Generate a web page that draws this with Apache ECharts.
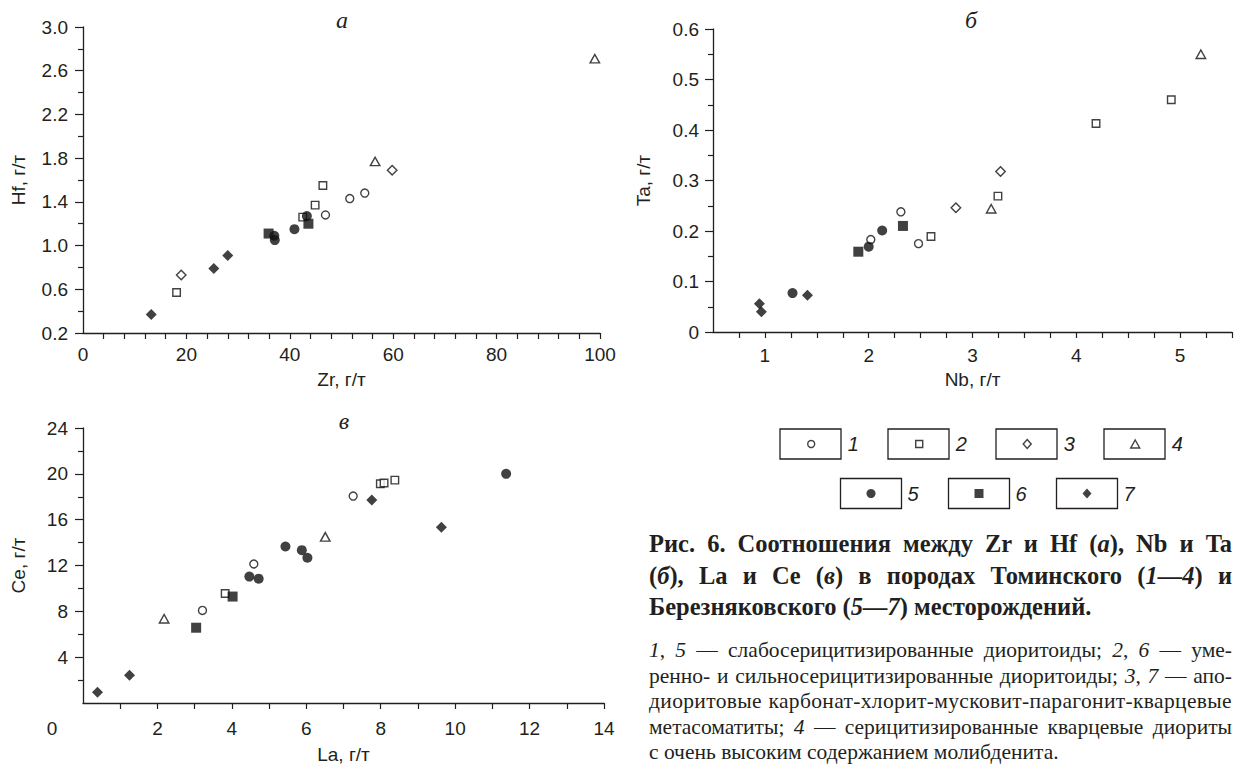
<!DOCTYPE html>
<html>
<head>
<meta charset="utf-8">
<title>Рис. 6</title>
<script src="https://cdn.jsdelivr.net/npm/echarts@6/dist/echarts.min.js"></script>
<style>
    html, body { margin: 0; padding: 0; background: #fff; }
    #chart { position: absolute; left: 0; top: 0; width: 1236px; height: 765px; }
    .caption { position: absolute; left: 649px; width: 583px; color: #231f20; font-family: 'Liberation Serif', serif; }
    .caption div { text-align: justify; text-align-last: justify; white-space: nowrap; }
    .caption div.last { text-align-last: left; }
    .head { top: 528px; font-size: 24.5px; line-height: 31.5px; font-weight: bold; }
    .note { top: 638px; font-size: 21.5px; line-height: 25.5px; }
    .note .wide { letter-spacing: 0.35px; }
</style>
</head>
<body>
<div id="chart"></div>
<div class="caption head">
    <div>Рис. 6. Соотношения между Zr и Hf (<i>а</i>), Nb и Ta</div>
    <div>(<i>б</i>), La и Ce (<i>в</i>) в породах Томинского (<i>1—4</i>) и</div>
    <div class="last">Березняковского (<i>5—7</i>) месторождений.</div>
</div>
<div class="caption note">
    <div><i>1</i>, <i>5</i> — слабосерицитизированные диоритоиды; <i>2</i>, <i>6</i> — уме-</div>
    <div>ренно- и сильносерицитизированные диоритоиды; <i>3</i>, <i>7</i> — апо-</div>
    <div class="wide">диоритовые карбонат-хлорит-мусковит-парагонит-кварцевые</div>
    <div>метасоматиты; <i>4</i> — серицитизированные кварцевые диориты</div>
    <div class="last">с очень высоким содержанием молибденита.</div>
</div>
<script>
    // group names (legend numbers)
    var groups = ['1', '2', '3', '4', '5', '6', '7'];

    // panel а: Zr vs Hf, g/t
    var zrHf1 = [[46.9, 1.28], [51.6, 1.43], [54.5, 1.48]];
    var zrHf2 = [[18.1, 0.57], [42.5, 1.26], [44.9, 1.37], [46.4, 1.55]];
    var zrHf3 = [[19.0, 0.73], [59.8, 1.69]];
    var zrHf4 = [[56.5, 1.77], [99.0, 2.71]];
    var zrHf5 = [[37.0, 1.09], [37.1, 1.05], [40.9, 1.15], [43.3, 1.27]];
    var zrHf6 = [[35.9, 1.11], [43.6, 1.20]];
    var zrHf7 = [[13.2, 0.37], [25.3, 0.79], [28.0, 0.91]];

    // panel б: Nb vs Ta, g/t
    var nbTa1 = [[2.02, 0.183], [2.31, 0.238], [2.48, 0.175]];
    var nbTa2 = [[2.60, 0.189], [3.245, 0.269], [4.19, 0.413], [4.915, 0.46]];
    var nbTa3 = [[2.84, 0.246], [3.27, 0.318]];
    var nbTa4 = [[3.18, 0.244], [5.2, 0.55]];
    var nbTa5 = [[1.266, 0.077], [2.0, 0.169], [2.13, 0.201]];
    var nbTa6 = [[1.90, 0.159], [2.33, 0.21]];
    var nbTa7 = [[0.947, 0.056], [0.966, 0.040], [1.41, 0.073]];

    // panel в: La vs Ce, g/t
    var laCe1 = [[3.21, 8.08], [4.59, 12.13], [7.26, 18.06]];
    var laCe2 = [[3.82, 9.55], [7.99, 19.13], [8.09, 19.2], [8.38, 19.45]];
    var laCe3 = [[9.66, 24.14]];
    var laCe4 = [[2.18, 7.35], [6.51, 14.5]];
    var laCe5 = [[4.47, 11.03], [4.72, 10.85], [5.44, 13.66], [5.88, 13.34], [6.03, 12.68], [11.37, 20.0]];
    var laCe6 = [[3.04, 6.57], [4.02, 9.29]];
    var laCe7 = [[0.39, 0.93], [1.25, 2.43], [7.76, 17.71], [9.63, 15.34]];

    // tick values and labels
    var zrLabels = [0, 20, 40, 60, 80, 100];
    var zrTicks = [4, 8, 12, 16, 20, 24, 28, 32, 36, 40, 44, 48, 52, 56, 60, 64, 68, 72, 76, 80, 84, 88, 92, 96, 100];
    var hfLabels = [0.2, 0.6, 1.0, 1.4, 1.8, 2.2, 2.6, 3.0];
    var hfMinor = [0.4, 0.8, 1.2, 1.6, 2.0, 2.4, 2.8];
    var nbLabels = [1, 2, 3, 4, 5];
    var nbTicks = [0.75, 1, 1.25, 1.5, 1.75, 2, 2.25, 2.5, 2.75, 3, 3.25, 3.5, 3.75, 4, 4.25, 4.5, 4.75, 5, 5.25, 5.5];
    var taLabels = [0, 0.1, 0.2, 0.3, 0.4, 0.5, 0.6];
    var taMinor = [0.05, 0.15, 0.25, 0.35, 0.45, 0.55];
    var laLabels = [0, 2, 4, 6, 8, 10, 12, 14];
    var laTicks = [1, 2, 3, 4, 5, 6, 7, 8, 9, 10, 11, 12, 13, 14];
    var ceLabels = [4, 8, 12, 16, 20, 24];
    var ceMinor = [2, 6, 10, 14, 18, 22];

    var ink = '#231f20';
    var fill = '#111';
    var sans = 'Liberation Sans';
    var fontSize = 19;

    // marker look for groups 1..7
    var marks = [
        { symbol: 'circle', size: 8, hollow: true, legendSize: [7, 7] },
        { symbol: 'rect', size: 7.5, hollow: true, legendSize: [7, 7] },
        { symbol: 'diamond', size: 9.5, hollow: true, legendSize: [8, 9] },
        { symbol: 'triangle', size: [9.5, 8.5], hollow: true, legendSize: [9, 8] },
        { symbol: 'circle', size: 10, hollow: false, legendSize: [9, 9] },
        { symbol: 'rect', size: 10, hollow: false, legendSize: [9, 9] },
        { symbol: 'diamond', size: 11, hollow: false, legendSize: [9, 10] }
    ];

    function markStyle(m) {
        return m.hollow
            ? { color: '#fff', borderColor: fill, borderWidth: 1.4 }
            : { color: fill, borderColor: fill, borderWidth: 0 };
    }

    function panelSeries(list, xi, yi) {
        return list.map(function (data, i) {
            return {
                name: groups[i],
                type: 'scatter',
                xAxisIndex: xi,
                yAxisIndex: yi,
                symbol: marks[i].symbol,
                symbolSize: marks[i].size,
                itemStyle: markStyle(marks[i]),
                emphasis: { disabled: true },
                data: data
            };
        });
    }

    function labelStyle(margin) {
        return { color: ink, fontFamily: sans, fontSize: fontSize, margin: margin };
    }

    function xAxis(grid, min, max, labels, ticks, margin, name, nameGap) {
        return {
            type: 'value', gridIndex: grid, min: min, max: max,
            name: name, nameLocation: 'middle', nameGap: nameGap,
            nameTextStyle: { color: ink, fontFamily: sans, fontSize: fontSize },
            axisLine: { lineStyle: { color: ink, width: 1.3 } },
            axisTick: { length: 6, lineStyle: { color: ink, width: 1.2 }, customValues: ticks },
            axisLabel: Object.assign(labelStyle(margin), { customValues: labels }),
            splitLine: { show: false }
        };
    }

    function yAxis(grid, min, max, labels, margin, name, nameGap, fmt) {
        return {
            type: 'value', gridIndex: grid, min: min, max: max, position: 'left',
            name: name, nameLocation: 'middle', nameGap: nameGap,
            nameTextStyle: { color: ink, fontFamily: sans, fontSize: fontSize },
            axisLine: { lineStyle: { color: ink, width: 1.3 } },
            axisTick: { length: 8, lineStyle: { color: ink, width: 1.2 }, customValues: labels },
            axisLabel: Object.assign(labelStyle(margin), { customValues: labels, formatter: fmt }),
            splitLine: { show: false }
        };
    }

    function yMinor(grid, min, max, ticks) {
        return {
            type: 'value', gridIndex: grid, min: min, max: max, position: 'left',
            axisLine: { show: false },
            axisTick: { length: 5, lineStyle: { color: ink, width: 1.2 }, customValues: ticks },
            axisLabel: { show: false },
            splitLine: { show: false }
        };
    }

    // legend: frame boxes with one marker each, number outside the box
    var boxCenters = [[810.5, 444], [918.5, 444], [1026.5, 444], [1134.5, 444], [871, 493.5], [979, 493.5], [1087, 493.5]];
    var boxW = 61, boxH = 30;

    var legends = groups.map(function (g, i) {
        var m = marks[i];
        var c = boxCenters[i];
        return {
            left: c[0] - m.legendSize[0] / 2,
            top: c[1] - 11,
            padding: 0,
            itemWidth: m.legendSize[0],
            itemHeight: m.legendSize[1],
            selectedMode: false,
            textStyle: {
                color: ink, fontFamily: sans, fontStyle: 'italic', fontSize: 20, lineHeight: 22,
                padding: [0, 0, 0, 31.5 - m.legendSize[0] / 2]
            },
            data: [{ name: g, icon: m.symbol, itemStyle: markStyle(m) }]
        };
    });

    var frames = boxCenters.map(function (c) {
        return {
            type: 'rect',
            shape: { x: c[0] - boxW / 2, y: c[1] - boxH / 2, width: boxW, height: boxH },
            style: { fill: 'none', stroke: ink, lineWidth: 1.3 },
            silent: true
        };
    });

    function panelTitle(text, x, y) {
        return {
            text: text, left: x, top: y, textAlign: 'center', padding: 0,
            textStyle: { color: ink, fontFamily: 'Liberation Serif', fontStyle: 'italic', fontWeight: 'normal', fontSize: 24 }
        };
    }

    var chart = echarts.init(document.getElementById('chart'), null, { renderer: 'svg' });
    chart.setOption({
        animation: false,
        backgroundColor: '#fff',
        title: [
            panelTitle('а', 342, 7.5),
            panelTitle('б', 971, 7.5),
            panelTitle('в', 344, 408.5)
        ],
        grid: [
            { left: 83, top: 27, width: 517, height: 306 },
            { left: 713, top: 29, width: 519, height: 303 },
            { left: 83, top: 428, width: 521, height: 276 }
        ],
        xAxis: [
            xAxis(0, 0, 100, zrLabels, zrTicks, 12, 'Zr, г/т', 37),
            xAxis(1, 0.5, 5.5, nbLabels, nbTicks, 14, 'Nb, г/т', 38),
            xAxis(2, 0, 14, laLabels, laTicks, 16, 'La, г/т', 42)
        ],
        yAxis: [
            yAxis(0, 0.2, 3.0, hfLabels, 15, 'Hf, г/т', 55, function (v) { return v.toFixed(1); }),
            yMinor(0, 0.2, 3.0, hfMinor),
            yAxis(1, 0, 0.6, taLabels, 14, 'Ta, г/т', 60, null),
            yMinor(1, 0, 0.6, taMinor),
            yAxis(2, 0, 24, ceLabels, 15, 'Ce, г/т', 55, null),
            yMinor(2, 0, 24, ceMinor)
        ],
        legend: legends,
        graphic: frames,
        series: [].concat(
            panelSeries([zrHf1, zrHf2, zrHf3, zrHf4, zrHf5, zrHf6, zrHf7], 0, 0),
            panelSeries([nbTa1, nbTa2, nbTa3, nbTa4, nbTa5, nbTa6, nbTa7], 1, 2),
            panelSeries([laCe1, laCe2, laCe3, laCe4, laCe5, laCe6, laCe7], 2, 4)
        )
    });

    // the corner "0" of panel в sits left of the origin
    chart.setOption({
        xAxis: [{}, {}, {
            axisLabel: {
                formatter: function (v) { return v === 0 ? '{z|0}' : String(v); },
                rich: { z: { padding: [0, 62, 0, 0], color: ink, fontFamily: sans, fontSize: fontSize } }
            }
        }]
    });
</script>
</body>
</html>
